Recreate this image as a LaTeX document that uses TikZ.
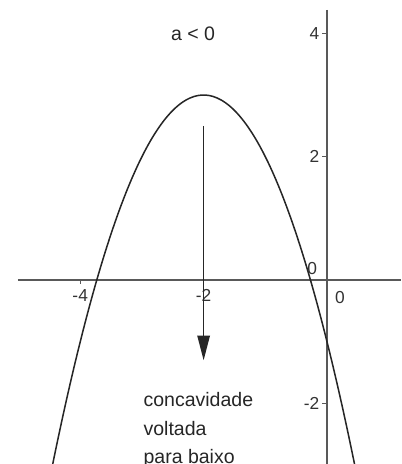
\documentclass[tikz,border=0pt]{standalone}
\usepackage{fontspec}
\setmainfont{Liberation Sans}
\usepackage{tikz}
\usetikzlibrary{arrows.meta, positioning}

\begin{document}
\begin{tikzpicture}[
  axis/.style={draw=black!65, line width=0.8pt},
  curve/.style={draw=black!85, line width=0.7pt},
  tick/.style={draw=black!65, line width=0.6pt},
  lbl/.style={font=\fontsize{8}{9}\selectfont, text=black!80, inner sep=1pt},
  note/.style={font=\fontsize{9}{13}\selectfont, text=black!85, align=left, inner sep=0pt},
  arr/.style={-{Triangle[length=4mm,width=2mm]}, line width=0.8pt, draw=black!85}
]
\useasboundingbox (-5.30,-2.98) rectangle (1.20,4.54);
\begin{scope}
\clip (-5.30,-2.98) rectangle (1.20,4.54);
% axes
\coordinate (xl) at (-5.01,0);
\coordinate (xr) at (1.20,0);
\coordinate (yt) at (0,4.38);
\coordinate (yb) at (0,-2.98);
\draw[axis] (xl) -- (xr);
\draw[axis] (yt) -- (yb);
% ticks and labels
\foreach \x/\t in {-4/4,-2/2}
  \draw[tick] (\x,0) -- (\x,-0.07) node[lbl, below=1pt] (tx\t) {-\t};
\foreach \y/\t in {4/4,2/2,-2/-2}
  \draw[tick] (0,\y) -- (-0.08,\y) node[lbl, left] (ty\y) {\t};
\node[lbl] (origa) at (0.21,-0.28) {0};
\node[lbl] (origb) at (-0.24,0.19) {0};
% parabola a<0
\draw[curve] plot[domain=-4.47:0.47, samples=80, smooth] (\x,{-(\x+2)*(\x+2)+3});
\end{scope}
% direction of opening
\coordinate (top) at (-2,2.5);
\coordinate (tip) at (-2,-1.3);
\draw[arr] (top) -- (tip);
\node[font=\fontsize{9}{11}\selectfont, text=black!85] (cond) at (-2.17,4.0) {a < 0};
\node[note, anchor=west] (txt) at (-2.98,-2.43) {concavidade\\voltada\\para baixo};
\end{tikzpicture}
\end{document}
